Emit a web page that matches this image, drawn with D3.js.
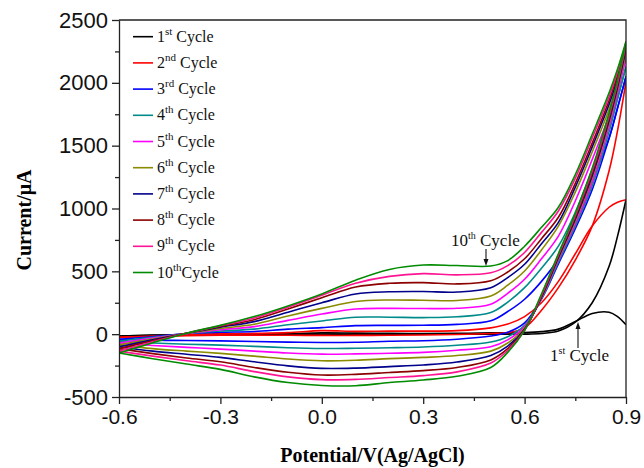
<!DOCTYPE html>
<html>
<head>
<meta charset="utf-8">
<script src="https://cdn.jsdelivr.net/npm/d3@7"></script>
<style>
  body { margin: 0; background: #fff; }
  svg { display: block; }
</style>
</head>
<body>
<script>
// potential grid (V vs Ag/AgCl)
const potential = [-0.6, -0.5, -0.4, -0.3, -0.2, -0.1, 0.0, 0.1, 0.2, 0.3, 0.4, 0.5, 0.55, 0.6, 0.65, 0.7, 0.75, 0.8, 0.85, 0.875, 0.9];

// anodic (upper) branch, current in uA, one row per cycle
const anodic = [
  [-15, -8, -3, 0, 2, 3, 10, 8, 6, 5, 6, 10, 10, 12, 20, 40, 100, 165, 175, 140, 75],
  [-25, -15, -5, 2, 6, 12, 28, 22, 24, 24, 28, 50, 80, 140, 250, 420, 640, 860, 1010, 1050, 1070],
  [-40, -20, 5, 15, 21, 40, 52, 68, 70, 71, 78, 106, 180, 278, 420, 600, 860, 1220, 1560, 1800, 2050],
  [-55, -25, 5, 25, 40, 75, 105, 135, 135, 132, 138, 172, 255, 370, 525, 700, 970, 1310, 1660, 1880, 2130],
  [-70, -30, 5, 35, 60, 110, 160, 200, 205, 204, 206, 238, 325, 437, 600, 780, 1060, 1390, 1740, 1960, 2200],
  [-85, -38, 6, 45, 79, 145, 205, 260, 272, 270, 268, 304, 390, 503, 670, 860, 1130, 1450, 1790, 2000, 2240],
  [-100, -45, 7, 55, 100, 175, 250, 320, 337, 339, 335, 370, 450, 556, 720, 890, 1170, 1490, 1830, 2030, 2270],
  [-115, -52, 8, 62, 115, 200, 290, 375, 405, 410, 400, 425, 495, 600, 760, 930, 1200, 1520, 1860, 2060, 2290],
  [-135, -60, 8, 67, 128, 215, 310, 405, 460, 482, 472, 488, 545, 650, 810, 980, 1240, 1560, 1890, 2090, 2310],
  [-150, -68, 8, 70, 140, 225, 320, 430, 515, 550, 546, 542, 585, 700, 850, 1010, 1270, 1590, 1920, 2110, 2330]
];

// cathodic (lower) branch, current in uA, one row per cycle
const cathodic = [
  [-15, -10, -8, -5, -3, -2, 0, 0, 0, 0, 0, 0, 0, 0, 5, 25, 95, 250, 540, 780, 1070],
  [-25, -20, -12, -8, -8, -9, -10, -10, -9, -7, -3, 5, 12, 50, 190, 370, 590, 860, 1300, 1620, 2010],
  [-40, -48, -50, -53, -58, -63, -66, -64, -56, -52, -40, -15, 15, 90, 280, 560, 840, 1150, 1560, 1800, 2050],
  [-55, -70, -80, -87, -97, -108, -114, -112, -108, -102, -88, -62, -20, 70, 280, 575, 860, 1180, 1610, 1870, 2130],
  [-70, -90, -105, -119, -135, -150, -159, -157, -152, -145, -128, -100, -45, 60, 285, 590, 880, 1210, 1650, 1915, 2200],
  [-85, -115, -135, -153, -175, -198, -212, -208, -195, -185, -170, -135, -70, 50, 290, 600, 900, 1240, 1680, 1945, 2240],
  [-100, -135, -160, -185, -220, -252, -272, -270, -258, -245, -222, -170, -95, 40, 295, 610, 915, 1260, 1700, 1965, 2270],
  [-115, -155, -190, -220, -265, -303, -325, -320, -305, -290, -265, -205, -115, 35, 300, 620, 930, 1280, 1720, 1985, 2290],
  [-135, -175, -212, -246, -298, -340, -362, -360, -345, -330, -300, -230, -130, 30, 310, 630, 945, 1300, 1740, 2000, 2310],
  [-150, -195, -238, -280, -340, -385, -408, -410, -385, -365, -335, -265, -145, 30, 320, 640, 960, 1320, 1760, 2020, 2330]
];

const cycleNum = ["1", "2", "3", "4", "5", "6", "7", "8", "9", "10"];
const cycleSup = ["st", "nd", "rd", "th", "th", "th", "th", "th", "th", "th"];
const cycleRest = [" Cycle", " Cycle", " Cycle", " Cycle", " Cycle", " Cycle", " Cycle", " Cycle", " Cycle", "Cycle"];
const colors = ["#000000", "#ff0000", "#0000ff", "#008b8b", "#ff00ff", "#8b8b00", "#00008b", "#8b0000", "#ff1493", "#008b00"];

const xTicks = [-0.6, -0.3, 0.0, 0.3, 0.6, 0.9];
const xMinor = [-0.45, -0.15, 0.15, 0.45, 0.75];
const yTicks = [-500, 0, 500, 1000, 1500, 2000, 2500];
const yMinor = [-250, 250, 750, 1250, 1750, 2250];

const width = 644;
const height = 468;
const margin = { left: 119, right: 18, top: 20, bottom: 71 };

const svg = d3.select("body")
  .append("svg")
  .attr("width", width)
  .attr("height", height);

const x = d3.scaleLinear().domain([-0.6, 0.9]).range([margin.left, width - margin.right]);
const y = d3.scaleLinear().domain([-500, 2500]).range([height - margin.bottom, margin.top]);

svg.append("clipPath").attr("id", "clip")
  .append("rect")
  .attr("x", margin.left).attr("y", margin.top)
  .attr("width", x(0.9) - x(-0.6)).attr("height", y(-500) - y(2500));

const line = d3.line()
  .x((d, i) => x(potential[i]))
  .y((d) => y(d))
  .curve(d3.curveCatmullRom.alpha(0.5));

const curves = svg.append("g").attr("clip-path", "url(#clip)");
for (let c = 0; c < 10; c++) {
  [cathodic[c], anodic[c]].forEach((branch) => {
    curves.append("path")
      .attr("d", line(branch))
      .attr("fill", "none")
      .attr("stroke", colors[c])
      .attr("stroke-width", 1.6);
  });
}

// frame (top and right)
svg.append("path")
  .attr("d", `M${x(-0.6)},${y(2500)}H${x(0.9)}V${y(-500)}`)
  .attr("fill", "none")
  .attr("stroke", "#222")
  .attr("stroke-width", 1.3);

// axes
const xAxis = svg.append("g")
  .attr("transform", `translate(0, ${y(-500)})`)
  .call(d3.axisBottom(x).tickValues(xTicks).tickSize(7).tickSizeOuter(0).tickFormat((d) => d.toFixed(1)));
svg.append("g")
  .attr("transform", `translate(0, ${y(-500)})`)
  .call(d3.axisBottom(x).tickValues(xMinor).tickSize(4).tickFormat(""))
  .select(".domain").remove();

const yAxis = svg.append("g")
  .attr("transform", `translate(${x(-0.6)}, 0)`)
  .call(d3.axisLeft(y).tickValues(yTicks).tickSize(7).tickSizeOuter(0).tickFormat((d) => String(d)));
svg.append("g")
  .attr("transform", `translate(${x(-0.6)}, 0)`)
  .call(d3.axisLeft(y).tickValues(yMinor).tickSize(4).tickFormat(""))
  .select(".domain").remove();

svg.selectAll(".domain, .tick line").attr("stroke", "#222").attr("stroke-width", 1.3);
xAxis.selectAll("text")
  .attr("font-family", "Liberation Sans, Arial, sans-serif")
  .attr("font-size", 21)
  .attr("fill", "#111")
  .attr("y", 12);
yAxis.selectAll("text")
  .attr("font-family", "Liberation Sans, Arial, sans-serif")
  .attr("font-size", 22)
  .attr("fill", "#111")
  .attr("x", -11);

// axis titles
svg.append("text")
  .attr("x", (x(-0.6) + x(0.9)) / 2)
  .attr("y", 462)
  .attr("text-anchor", "middle")
  .attr("font-family", "Liberation Serif, Times New Roman, serif")
  .attr("font-weight", "bold")
  .attr("font-size", 20)
  .text("Potential/V(Ag/AgCl)");

svg.append("text")
  .attr("transform", `translate(31, 220) rotate(-90)`)
  .attr("text-anchor", "middle")
  .attr("font-family", "Liberation Serif, Times New Roman, serif")
  .attr("font-weight", "bold")
  .attr("font-size", 20)
  .text("Current/\u03bcA");

// legend
const legend = svg.append("g")
  .attr("font-family", "Liberation Serif, Times New Roman, serif")
  .attr("fill", "#111");
cycleNum.forEach((n, i) => {
  const ly = 36.7 + i * 26.2;
  legend.append("line")
    .attr("x1", 133).attr("x2", 153)
    .attr("y1", ly).attr("y2", ly)
    .attr("stroke", colors[i]).attr("stroke-width", 1.6);
  const t = legend.append("text").attr("x", 157).attr("y", ly + 5).attr("font-size", 16);
  t.append("tspan").text(n);
  t.append("tspan").attr("font-size", 11).attr("dy", -7).text(cycleSup[i]);
  t.append("tspan").attr("dy", 7).text(cycleRest[i]);
});

// annotations
function arrow(x0, y0, y1) {
  const dir = y1 > y0 ? 1 : -1;
  svg.append("line")
    .attr("x1", x0).attr("x2", x0)
    .attr("y1", y0).attr("y2", y1 - dir * 5)
    .attr("stroke", "#111").attr("stroke-width", 1.1);
  svg.append("path")
    .attr("d", `M${x0},${y1}L${x0 - 2.5},${y1 - dir * 7}L${x0 + 2.5},${y1 - dir * 7}Z`)
    .attr("fill", "#111");
}

const ann10 = svg.append("text")
  .attr("x", 451).attr("y", 246)
  .attr("font-family", "Liberation Serif, Times New Roman, serif")
  .attr("font-size", 17).attr("fill", "#111");
ann10.append("tspan").text("10");
ann10.append("tspan").attr("font-size", 10).attr("dy", -7).text("th");
ann10.append("tspan").attr("dy", 7).text(" Cycle");
arrow(486, 249, 266);

const ann1 = svg.append("text")
  .attr("x", 550).attr("y", 361)
  .attr("font-family", "Liberation Serif, Times New Roman, serif")
  .attr("font-size", 17).attr("fill", "#111");
ann1.append("tspan").text("1");
ann1.append("tspan").attr("font-size", 10).attr("dy", -7).text("st");
ann1.append("tspan").attr("dy", 7).text(" Cycle");
arrow(578, 348, 322);
</script>
</body>
</html>
